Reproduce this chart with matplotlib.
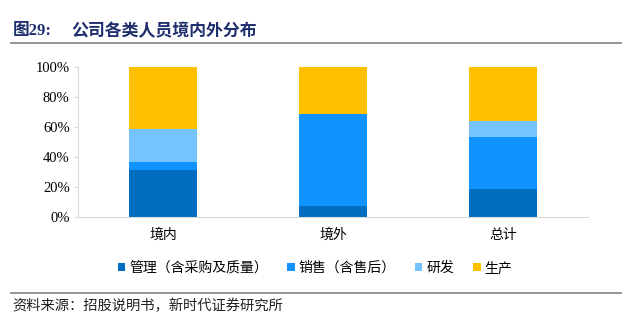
import matplotlib
matplotlib.use("Agg")
import matplotlib.pyplot as plt
from matplotlib.patches import Patch
from matplotlib.lines import Line2D
from matplotlib.ticker import PercentFormatter
import numpy as np

plt.rcParams['font.family'] = ['Liberation Serif', 'Noto Sans CJK SC']

# data (shares of staff)
categories = ["境内", "境外", "总计"]
series_names = ["管理（含采购及质量）", "销售（含售后）", "研发", "生产"]
management = [0.31, 0.073, 0.187]
sales = [0.057, 0.612, 0.342]
rnd = [0.216, 0.0, 0.109]
production = [0.417, 0.315, 0.362]
colors = ["#006EBE", "#1092FF", "#75C4FF", "#FFC000"]

cjk = ['Noto Sans CJK SC', 'DejaVu Sans']

fig = plt.figure(figsize=(6.3, 3.25), dpi=100)
ax = fig.add_axes([0.1238, 0.3332, 0.8095, 0.4616])

x = np.arange(len(categories))
bottom = np.zeros(len(categories))
for vals, c in zip([management, sales, rnd, production], colors):
    ax.bar(x, vals, width=0.4, bottom=bottom, color=c, edgecolor="none")
    bottom += np.array(vals)

ax.set_xlim(-0.5, 2.5)
ax.set_ylim(0, 1.0)
ax.set_yticks(np.arange(0, 1.01, 0.2))
ax.yaxis.set_major_formatter(PercentFormatter(1.0, decimals=0))
ax.set_xticks(x)
ax.set_xticklabels(categories, family=cjk, fontsize=10)
for lab in ax.get_yticklabels():
    lab.set_fontsize(10.5)
ax.tick_params(axis='x', length=0, pad=8)
ax.tick_params(axis='y', length=3, color="#d9d9d9", pad=3)
for s in ["top", "right"]:
    ax.spines[s].set_visible(False)
ax.spines["left"].set_color("#d9d9d9")
ax.spines["bottom"].set_color("#d9d9d9")

# legend
handles = [Patch(facecolor=c, edgecolor="none") for c in colors]
fig.legend(handles, series_names, loc="center", bbox_to_anchor=(0.50, 0.175),
           ncol=4, frameon=False, prop={'family': cjk, 'size': 10},
           handlelength=0.55, handleheight=0.55, handletextpad=0.3,
           columnspacing=1.35)

# title and source
fig.text(0.02, 0.905, "图29:", fontsize=12, fontweight="bold", color="#1F2F6E",
         family=['Liberation Serif', 'Noto Sans CJK SC'], va="center")
fig.text(0.113, 0.905, "公司各类人员境内外分布", fontsize=12.2, fontweight="bold",
         color="#1F2F6E", family=cjk, va="center")
fig.add_artist(Line2D([0.017, 0.985], [0.867, 0.867], color="#808080", lw=1.2))
fig.add_artist(Line2D([0.017, 0.985], [0.1, 0.1], color="#808080", lw=1.2))
fig.text(0.02, 0.058, "资料来源：招股说明书，新时代证券研究所", fontsize=10.3,
         family=cjk, va="center", color="#222222")

fig.savefig("out.png", dpi=100)
